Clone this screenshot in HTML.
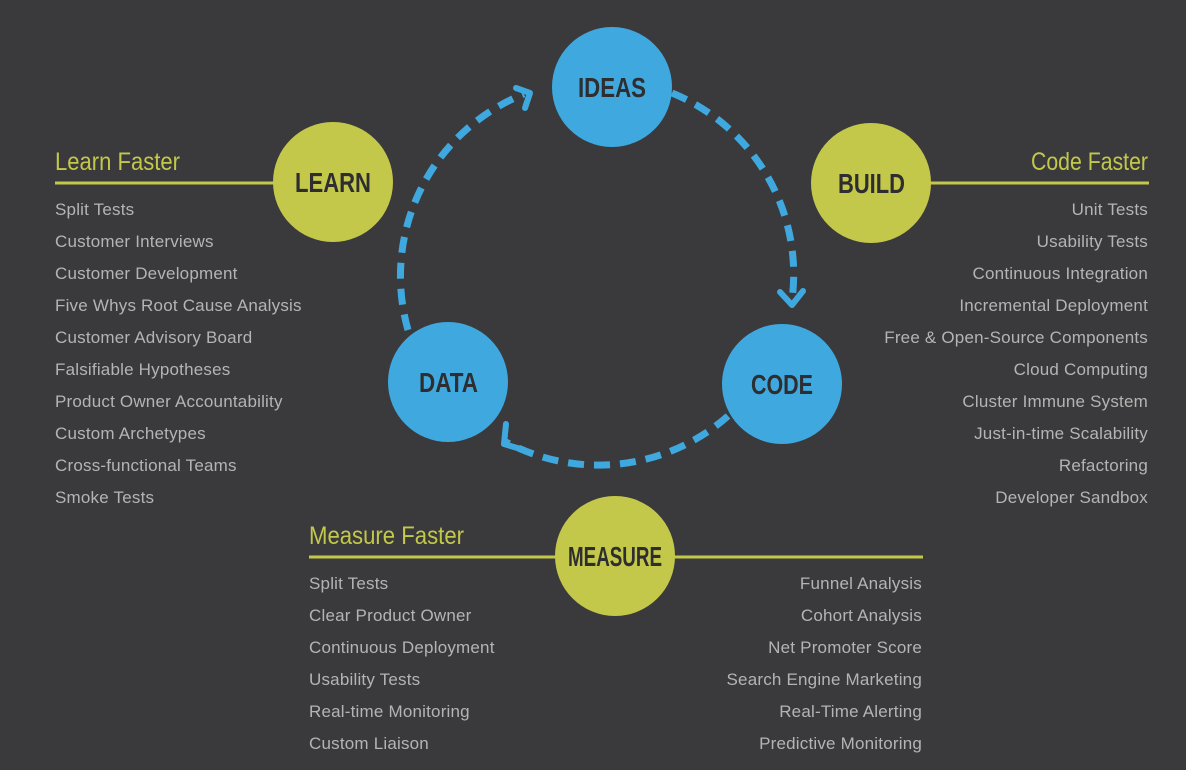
<!DOCTYPE html>
<html><head><style>
body{margin:0;background:#3a3a3c;}
#c{position:relative;width:1186px;height:770px;overflow:hidden;background:#3a3a3c;font-family:"Liberation Sans",sans-serif;}
.t{position:absolute;color:#b4b4b4;font-size:17px;letter-spacing:0.2px;line-height:32px;white-space:nowrap;}
.r{text-align:right;}
</style></head><body><div id="c">
<svg width="1186" height="770" style="position:absolute;left:0;top:0">
<g stroke="#c3c84a" stroke-width="3">
<line x1="55" y1="183" x2="280" y2="183"/>
<line x1="925" y1="183" x2="1149" y2="183"/>
<line x1="309" y1="557" x2="923" y2="557"/>
</g>
<g fill="none" stroke="#3fa9df" stroke-width="7" stroke-dasharray="16 10" stroke-linecap="butt">
<path d="M672 93 A196 196 0 0 1 792 300"/>
<path d="M728 416 A196 196 0 0 1 506 442"/>
<path d="M408 330 A196 196 0 0 1 524 94"/>
</g>
<g fill="none" stroke="#3fa9df" stroke-width="6" stroke-linecap="round" stroke-linejoin="round">
<polyline points="780,292 792,305 803,291"/>
<polyline points="506,424 504,444 524,450"/>
<polyline points="516,88 530,93 525,108"/>
</g>
<g fill="#c3c84a">
<circle cx="333" cy="182" r="60"/><circle cx="871" cy="183" r="60"/><circle cx="615" cy="556" r="60"/>
</g>
<g fill="#3fa9df">
<circle cx="612" cy="87" r="60"/><circle cx="448" cy="382" r="60"/><circle cx="782" cy="384" r="60"/>
</g>
<g font-family="Liberation Sans,sans-serif" font-size="28" font-weight="bold" fill="#2e2e30">
<text x="578" y="97" textLength="68" lengthAdjust="spacingAndGlyphs">IDEAS</text>
<text x="295" y="192" textLength="76" lengthAdjust="spacingAndGlyphs">LEARN</text>
<text x="838" y="193" textLength="67" lengthAdjust="spacingAndGlyphs">BUILD</text>
<text x="419" y="392" textLength="59" lengthAdjust="spacingAndGlyphs">DATA</text>
<text x="751" y="394" textLength="62" lengthAdjust="spacingAndGlyphs">CODE</text>
<text x="568" y="566" textLength="94" lengthAdjust="spacingAndGlyphs">MEASURE</text>
</g>
<g font-family="Liberation Sans,sans-serif" font-size="25" fill="#c3c84a">
<text x="55" y="170" textLength="125" lengthAdjust="spacingAndGlyphs">Learn Faster</text>
<text x="1031" y="170" textLength="117" lengthAdjust="spacingAndGlyphs">Code Faster</text>
<text x="309" y="544" textLength="155" lengthAdjust="spacingAndGlyphs">Measure Faster</text>
</g>
</svg>
<div class="t" style="left:55px;top:194px">Split Tests<br>Customer Interviews<br>Customer Development<br>Five Whys Root Cause Analysis<br>Customer Advisory Board<br>Falsifiable Hypotheses<br>Product Owner Accountability<br>Custom Archetypes<br>Cross-functional Teams<br>Smoke Tests</div>
<div class="t r" style="right:38px;top:194px">Unit Tests<br>Usability Tests<br>Continuous Integration<br>Incremental Deployment<br>Free &amp; Open-Source Components<br>Cloud Computing<br>Cluster Immune System<br>Just-in-time Scalability<br>Refactoring<br>Developer Sandbox</div>
<div class="t" style="left:309px;top:568px">Split Tests<br>Clear Product Owner<br>Continuous Deployment<br>Usability Tests<br>Real-time Monitoring<br>Custom Liaison</div>
<div class="t r" style="right:264px;top:568px">Funnel Analysis<br>Cohort Analysis<br>Net Promoter Score<br>Search Engine Marketing<br>Real-Time Alerting<br>Predictive Monitoring</div>
</div></body></html>
